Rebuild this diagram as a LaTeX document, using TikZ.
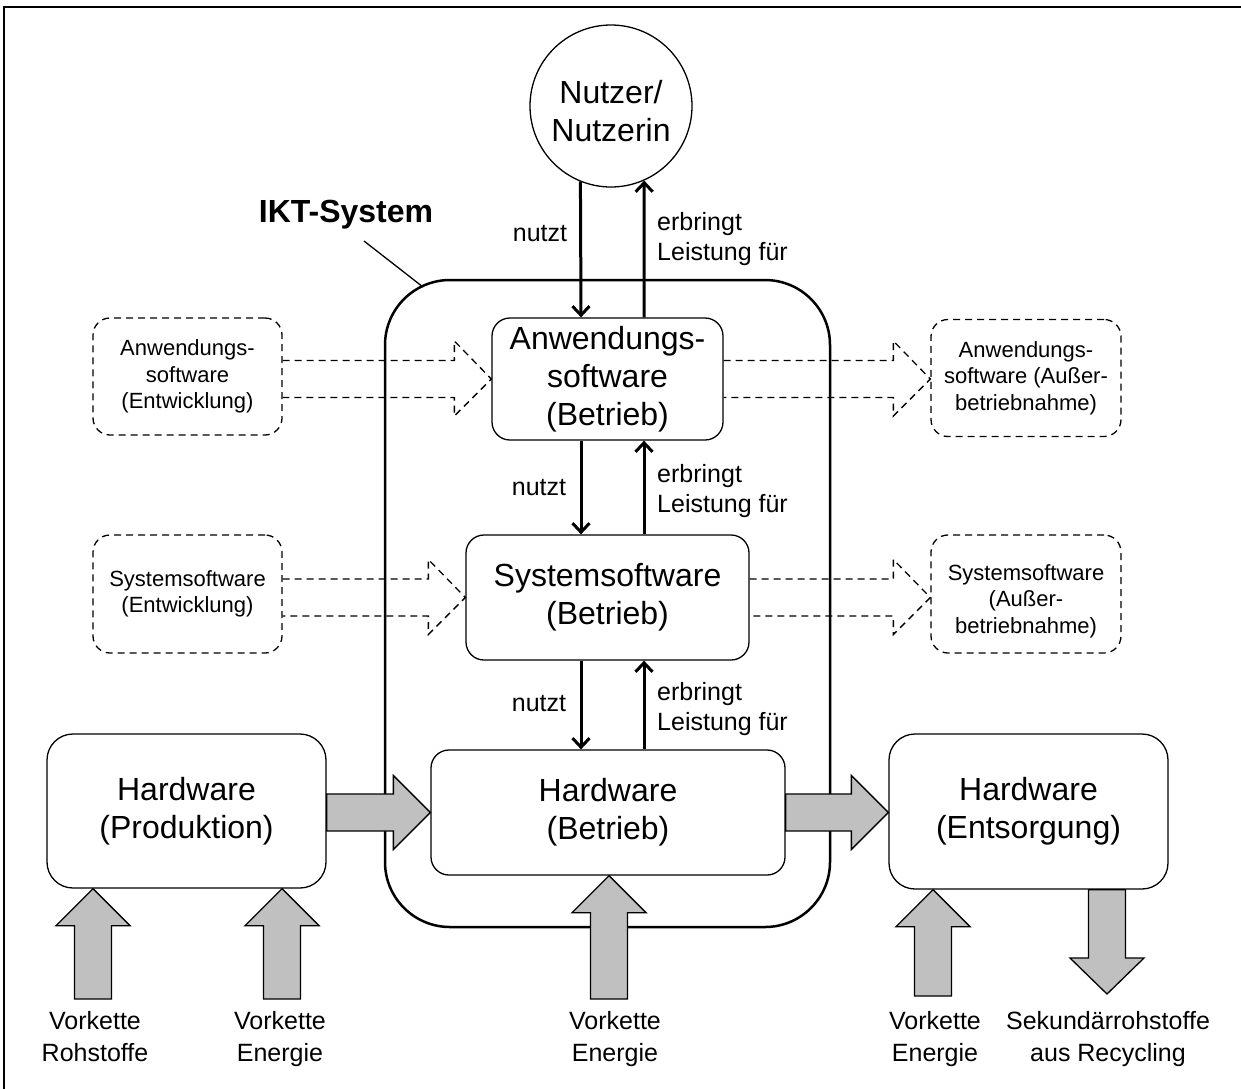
\documentclass[tikz,border=0pt]{standalone}
\usepackage{fontspec}
\setmainfont{Liberation Sans}
\usetikzlibrary{arrows.meta,calc}
\definecolor{arrgray}{RGB}{192,192,192}
\newcommand\hblockG[2]{\draw[garr] ($(#1)+(0,-18.5)$) -- ($(#2)+(-37,-18.5)$) -- ($(#2)+(-37,-37)$) -- (#2) -- ($(#2)+(-37,37)$) -- ($(#2)+(-37,18.5)$) -- ($(#1)+(0,18.5)$) -- cycle;}
\newcommand\hblockD[2]{\draw[darr] ($(#1)+(0,-18.5)$) -- ($(#2)+(-37,-18.5)$) -- ($(#2)+(-37,-38)$) -- (#2) -- ($(#2)+(-37,37)$) -- ($(#2)+(-37,18.5)$) -- ($(#1)+(0,18.5)$);}
\newcommand\upblock[2]{\draw[garr] ($(#1)+(-18.5,0)$) -- ($(#2)+(-18.5,37)$) -- ($(#2)+(-37,37)$) -- (#2) -- ($(#2)+(37,37)$) -- ($(#2)+(18.5,37)$) -- ($(#1)+(18.5,0)$) -- cycle;}
\newcommand\downblock[2]{\draw[garr] ($(#1)+(-18.5,0)$) -- ($(#2)+(-18.5,-36)$) -- ($(#2)+(-37,-36)$) -- (#2) -- ($(#2)+(37,-36)$) -- ($(#2)+(18.5,-36)$) -- ($(#1)+(18.5,0)$) -- cycle;}
\begin{document}
\begin{tikzpicture}[x=1pt,y=-1pt,
  big/.style={font=\fontsize{32}{38}\selectfont},
  box/.style={draw, line width=1.3pt, rounded corners=18pt, fill=white, align=center, inner sep=0pt, big},
  hwbox/.style={box, rounded corners=26pt},
  dfont/.style={align=center, inner sep=0pt, font=\fontsize{22}{26.5}\selectfont},
  dbox/.style={draw, dash pattern=on 7pt off 5pt, line width=1.3pt, rounded corners=17pt, dfont},
  lbl/.style={align=left, inner sep=0pt, font=\fontsize{25}{30}\selectfont},
  blbl/.style={align=center, inner sep=0pt, font=\fontsize{25}{32}\selectfont, text height=19pt, text depth=38pt},
  blk/.style={line width=3pt, -{Straight Barb[length=9pt,width=17pt]}},
  garr/.style={draw, line width=1.3pt, fill=arrgray, line join=miter},
  darr/.style={draw, dash pattern=on 7pt off 5pt, line width=1.3pt}]
\useasboundingbox (0,0) rectangle (1241,1088);
% outer frame (only top and left visible)
\draw[line width=2pt] (3.5,1100) -- (3.5,7) -- (1260,7);

% IKT system
\node[draw, line width=2.5pt, rounded corners=65pt, minimum width=445pt, minimum height=647pt, inner sep=0pt] (ikt) at (607.5,603.5) {};
\node[inner sep=0pt, font=\bfseries\fontsize{32}{38}\selectfont] (iktlbl) at (346,215) {IKT-System};
\coordinate (l1) at (364,241);
\coordinate (l2) at (423,287);
\draw[line width=1.3pt] (l1) -- (l2);

% user
\node[circle, draw, line width=1.3pt, minimum size=162pt, inner sep=0pt] (nutzer) at (611,106) {};
\node[align=center, inner sep=0pt, big] (nutzertxt) at ($(nutzer.center)+(0,5)$) {Nutzer/\\Nutzerin};

% operating boxes
\node[box, minimum width=231pt, minimum height=122pt] (anw) at (607.5,379) {Anwendungs-\\software\\(Betrieb)};
\node[box, minimum width=283pt, minimum height=125pt] (sys) at (607.5,597.5) {Systemsoftware\\(Betrieb)};
\node[box, minimum width=354pt, minimum height=125pt] (hwbet) at (608,812.5) {Hardware\\(Betrieb)};
\node[hwbox, minimum width=279pt, minimum height=154pt] (hwprod) at (186.5,811) {Hardware\\(Produktion)};
\node[hwbox, minimum width=279pt, minimum height=155pt] (hwent) at (1028.5,811.5) {Hardware\\(Entsorgung)};

% dashed boxes
\node[dbox, minimum width=189pt, minimum height=117pt] (dl1) at (187.5,376.5) {Anwendungs-\\software\\(Entwicklung)};
\node[dbox, minimum width=189pt, minimum height=118pt] (dl2) at (187.5,594) {Systemsoftware\\(Entwicklung)};
\node[dbox, minimum width=190pt, minimum height=117pt] (dr1) at (1026,378) {Anwendungs-\\software (Außer-\\betriebnahme)};
\node[dbox, minimum width=190pt, minimum height=118pt,
  label={[dfont, yshift=-7pt]center:Systemsoftware\\(Außer-\\betriebnahme)}] (dr2) at (1026,594) {};

% dashed block arrows
\coordinate (s1) at (dl1.east |- anw.west);
\hblockD{s1}{anw.west}
\coordinate (s2) at (dl2.east |- sys.west);
\hblockD{s2}{sys.west}
\coordinate (t3) at (dr1.west |- anw.east);
\hblockD{anw.east}{t3}
\coordinate (t4) at (dr2.west |- sys.east);
\hblockD{sys.east}{t4}

% grey block arrows
\coordinate (s5) at (hwprod.east |- hwbet.west);
\hblockG{s5}{hwbet.west}
\coordinate (t6) at (hwent.west |- hwbet.east);
\hblockG{hwbet.east}{t6}

\coordinate (b1) at (93,999);
\coordinate (u1) at (b1 |- hwprod.south);
\upblock{b1}{u1}
\coordinate (b2) at (282,999);
\coordinate (u2) at (b2 |- hwprod.south);
\upblock{b2}{u2}
\coordinate (b3) at (609,999);
\coordinate (u3) at (b3 |- hwbet.south);
\upblock{b3}{u3}
\coordinate (b4) at (933,996);
\coordinate (u4) at (b4 |- hwent.south);
\upblock{b4}{u4}
\coordinate (d5) at (1107,994);
\coordinate (s7) at (d5 |- hwent.south);
\downblock{s7}{d5}

% black arrows
\coordinate (dx) at (581,0);
\coordinate (ux) at (644,0);
\draw[blk] (nutzer.248) -- (dx |- anw.north);
\draw[blk] (ux |- anw.north) -- (nutzer.294);
\draw[blk] (dx |- anw.south) -- (dx |- sys.north);
\draw[blk] (ux |- sys.north) -- (ux |- anw.south);
\draw[blk] (dx |- sys.south) -- (dx |- hwbet.north);
\draw[blk] (ux |- hwbet.north) -- (ux |- sys.south);

% arrow labels
\node[lbl] (n1) at (540,234) {nutzt};
\node[lbl, anchor=west] (e1) at (657,239) {erbringt\\Leistung für};
\node[lbl] (n2) at (539,488) {nutzt};
\node[lbl, anchor=west] (e2) at (657,491) {erbringt\\Leistung für};
\node[lbl] (n3) at (539,704) {nutzt};
\node[lbl, anchor=west] (e3) at (657,709) {erbringt\\Leistung für};

% bottom labels
\node[blbl] (v1) at (95,1071) {Vorkette\\Rohstoffe};
\node[blbl] (v2) at (280,1071) {Vorkette\\Energie};
\node[blbl] (v3) at (615,1071) {Vorkette\\Energie};
\node[blbl] (v4) at (935,1071) {Vorkette\\Energie};
\node[blbl] (v5) at (1108,1071) {Sekundärrohstoffe\\aus Recycling};
\end{tikzpicture}
\end{document}
